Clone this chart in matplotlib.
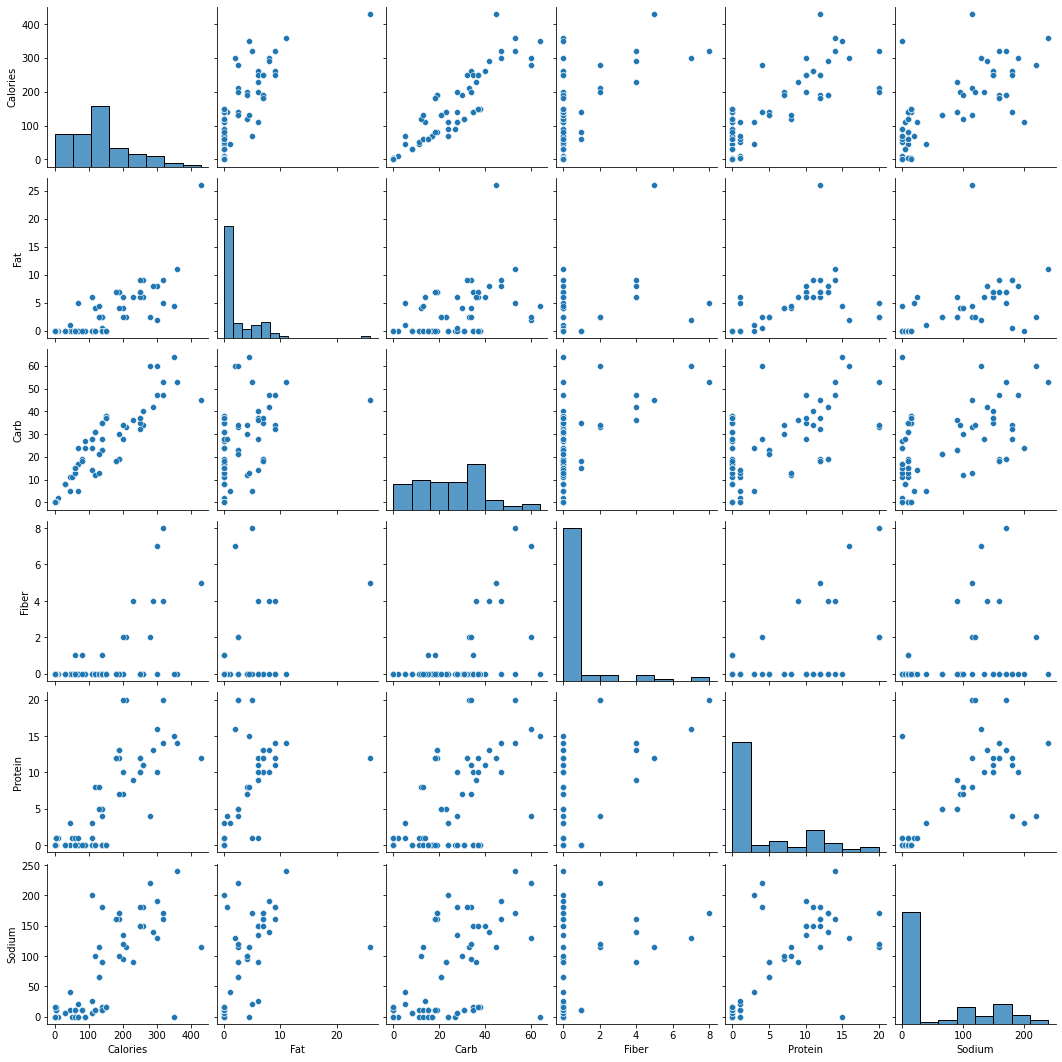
import matplotlib
matplotlib.use("Agg")
import matplotlib.pyplot as plt
import seaborn as sns
import pandas as pd

# Nutrition values per drink
calories = [430, 360, 350, 320, 320, 300, 300, 290, 280,
            260, 260, 250, 250, 250, 250, 230,
            210, 200, 200, 190, 200, 190, 190, 180, 190, 180,
            # < 53.75 kcal
            45, 45, 50, 30, 30, 30, 10, 5, 5, 5, 5, 5, 0, 0, 0, 0, 0, 0,
            # 53.75 - 107.5 kcal
            60, 80, 80, 60, 60, 60, 70, 70, 70, 70, 60, 60, 70, 90, 90, 60, 60, 80,
            # 107.5 - 161.25 kcal
            110, 110, 110, 110, 120, 120, 120, 120, 120, 120, 120, 130, 130, 140, 140, 140,
            140, 130, 140, 140, 140, 140, 140, 140, 140, 140, 150, 150, 150, 150, 150, 150, 150]
fat = [26, 11, 4.5, 9, 5, 2, 8, 8, 2.5,
       6, 9, 6, 7, 7, 9, 6,
       2.5, 2.5, 4, 4, 6, 7, 7, 7, 7, 7,
       1, 0, 0, 0, 0, 0, 0, 0, 0, 0, 0, 0, 0, 0, 0, 0, 0, 0,
       0, 0, 0, 0, 0, 0, 5, 0, 0, 0, 0, 0, 0, 0, 0, 0, 0, 0,
       6, 0, 0, 0, 4, 0, 0, 0, 0, 0, 0, 4.5, 2.5, 0.5, 2.5, 0,
       2.5, 2.5, 0, 0, 0, 0, 0, 0, 0, 0, 0, 0, 0, 0, 0, 0, 0]
carb = [45, 53, 64, 47, 53, 60, 47, 42, 60,
        40, 34, 37, 35, 37, 32, 36,
        33, 34, 34, 30, 28, 19, 19, 18, 19, 18,
        5, 11, 11, 8, 8, 8, 2, 0, 0, 0, 0, 0, 0, 0, 0, 0, 0, 0,
        15, 18, 19, 13, 13, 15, 5, 17, 17, 17, 15, 15, 24, 27, 24, 15, 15, 18,
        14, 24, 28, 28, 12, 31, 31, 31, 31, 31, 31, 13, 21, 28, 23, 35,
        23, 21, 35, 35, 35, 35, 35, 35, 35, 35, 38, 38, 38, 38, 37, 37, 37]
fiber = [5, 0, 0, 4, 8, 7, 0, 4, 2,
         0, 0, 0, 0, 0, 0, 4,
         2, 2, 0, 0, 0, 0, 0, 0, 0, 0,
         0, 0, 0, 0, 0, 0, 0, 0, 0, 0, 0, 0, 0, 0, 0, 0, 0, 0,
         1, 1, 0, 0, 0, 0, 0, 0, 0, 0, 0, 0, 0, 0, 0, 0, 0, 0,
         0, 0, 0, 0, 0, 0, 0, 0, 0, 0, 0, 0, 0, 0, 0, 1,
         0, 0, 0, 0, 0, 0, 0, 0, 0, 0, 0, 0, 0, 0, 0, 0, 0]
protein = [12, 14, 15, 14, 20, 16, 10, 13, 4,
           11, 11, 12, 10, 10, 12, 9,
           20, 20, 7, 7, 10, 13, 12, 12, 13, 12,
           3, 0, 1, 0, 0, 0, 1, 1, 1, 1, 1, 0, 0, 0, 0, 0, 0, 0,
           0, 0, 0, 1, 0, 0, 1, 0, 0, 0, 0, 0, 0, 0, 0, 0, 0, 0,
           1, 3, 0, 0, 8, 0, 0, 0, 0, 0, 0, 8, 5, 4, 5, 0,
           5, 5, 0, 0, 0, 0, 0, 0, 0, 0, 0, 0, 0, 0, 0, 0, 0]
sodium = [115, 240, 0, 160, 170, 130, 190, 140, 220,
          150, 180, 150, 150, 150, 180, 90,
          115, 120, 95, 100, 135, 170, 160, 160, 170, 160,
          40, 10, 0, 5, 5, 5, 0, 10, 10, 10, 10, 15, 15, 0, 0, 0, 0, 0,
          10, 10, 10, 10, 0, 0, 20, 0, 0, 0, 10, 10, 0, 0, 0, 10, 10, 10,
          25, 200, 5, 5, 100, 10, 10, 10, 10, 10, 10, 115, 65, 180, 90, 10,
          90, 65, 10, 10, 10, 10, 10, 15, 15, 10, 15, 15, 15, 15, 15, 15, 15]

df = pd.DataFrame({"Calories": calories, "Fat": fat, "Carb": carb,
                   "Fiber": fiber, "Protein": protein, "Sodium": sodium})

g = sns.pairplot(df, height=2.5, diag_kws={"bins": 8})

# the Fat histogram uses finer bins
fat_ax = g.diag_axes[1]
for p in list(fat_ax.patches):
    p.remove()
sns.histplot(x=df["Fat"], bins=16, fill=True, color="C0", ax=fat_ax)
fat_ax.relim()

g.figure.savefig("out.png", dpi=72, bbox_inches="tight")
